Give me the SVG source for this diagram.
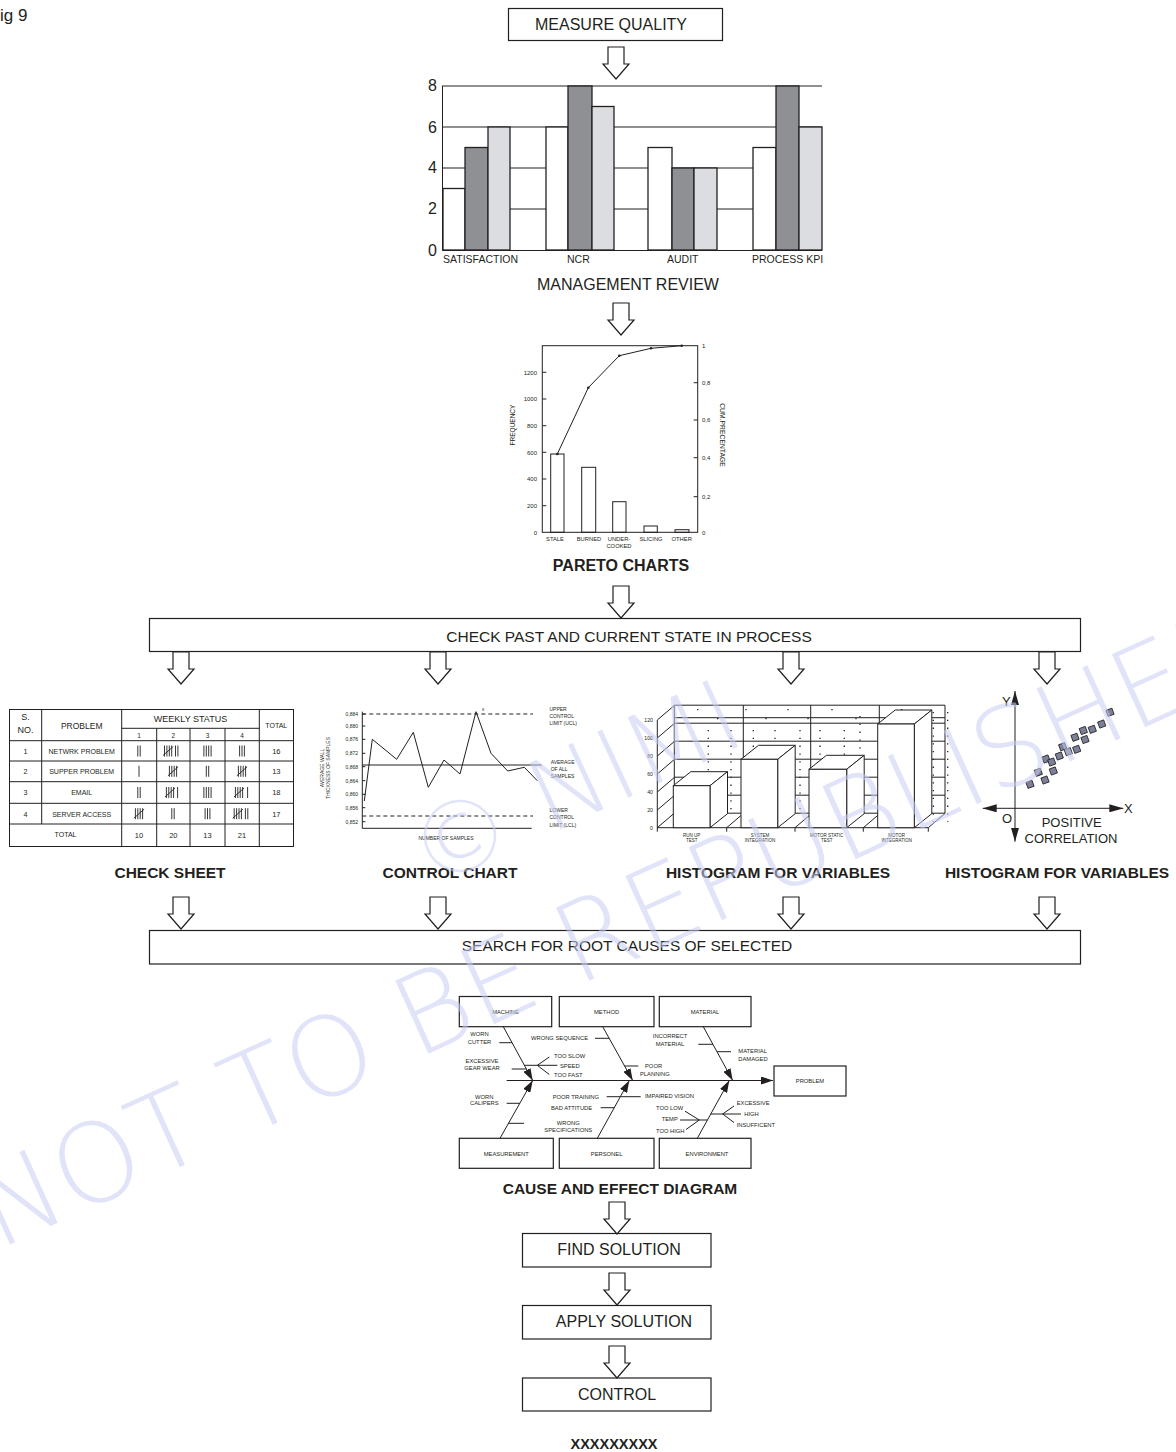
<svg xmlns="http://www.w3.org/2000/svg" width="1176" height="1452" viewBox="0 0 1176 1452">
<style>
text{font-family:"Liberation Sans",Arial,sans-serif;fill:#231f20}
.b{font-weight:bold}
.m{text-anchor:middle}
.e{text-anchor:end}
.box{fill:#fff;stroke:#231f20;stroke-width:1.2}
.ln{stroke:#231f20;stroke-width:1;fill:none}
.ha{fill:#fff;stroke:#231f20;stroke-width:1.2}
.w{fill:#fff;stroke:#231f20;stroke-width:1.3}
.d{fill:#8f9094;stroke:#231f20;stroke-width:1.3}
.l{fill:#dcdde0;stroke:#231f20;stroke-width:1.3}
.t{stroke:#231f20;stroke-width:0.9;fill:none}
.f5{font-size:5px}
.f6{font-size:5.8px}
.sq{fill:#7d8099;stroke:#231f20;stroke-width:0.8}
.wm{font-family:"DejaVu Sans","Liberation Sans",sans-serif;font-weight:200;fill:#c9cdf3;fill-opacity:0.55}
</style>
<defs>
<path id="ha" d="M-8,0H8V17H13L0,32L-13,17H-8Z"/>
<g id="t1"><path d="M0,-5.5V5.5"/></g>
<g id="t2"><path d="M0,-5.5V5.5M2.4,-5.5V5.5"/></g>
<g id="t3"><path d="M0,-5.5V5.5M2.4,-5.5V5.5M4.8,-5.5V5.5"/></g>
<g id="t4"><path d="M0,-5.5V5.5M2.4,-5.5V5.5M4.8,-5.5V5.5M7.2,-5.5V5.5"/></g>
<g id="t5"><path d="M0,-5.5V5.5M2.4,-5.5V5.5M4.8,-5.5V5.5M7.2,-5.5V5.5M-1.5,4.5L8.7,-4.5"/></g>
<marker id="ah" viewBox="0 0 12 8" refX="12" refY="4" markerUnits="userSpaceOnUse" markerWidth="12" markerHeight="8" orient="auto"><path d="M0,0L12,4L0,8Z" fill="#231f20"/></marker>
<marker id="ax" viewBox="0 0 14 8" refX="14" refY="4" markerUnits="userSpaceOnUse" markerWidth="14" markerHeight="8" orient="auto-start-reverse"><path d="M0,0L14,4L0,8Z" fill="#231f20"/></marker>
</defs>
<rect width="1176" height="1452" fill="#fff"/>

<g id="fig-label"><text x="0" y="21" font-size="17">ig 9</text></g>

<g id="measure-quality">
<rect class="box" x="508.5" y="8.5" width="214" height="32"/>
<text class="m" x="611" y="30" font-size="16">MEASURE QUALITY</text>
</g>

<g id="management-review">
<path class="ln" stroke-width="1.2" d="M442,86H822M442,127H822M442,168H822M442,209H822"/>
<rect class="w" x="443" y="188.5" width="22" height="61.5"/>
<rect class="d" x="465" y="147.5" width="23" height="102.5"/>
<rect class="l" x="488" y="127" width="22" height="123"/>
<rect class="w" x="546" y="127" width="22" height="123"/>
<rect class="d" x="568" y="86" width="24" height="164"/>
<rect class="l" x="592" y="106.5" width="22" height="143.5"/>
<rect class="w" x="648" y="147.5" width="24" height="102.5"/>
<rect class="d" x="672" y="168" width="22" height="82"/>
<rect class="l" x="694" y="168" width="23" height="82"/>
<rect class="w" x="753" y="147.5" width="23" height="102.5"/>
<rect class="d" x="776" y="86" width="23" height="164"/>
<rect class="l" x="799" y="127" width="23" height="123"/>
<path class="ln" stroke-width="1.4" d="M442.5,86V250.5H822"/>
<text class="e" x="437" y="91" font-size="16">8</text>
<text class="e" x="437" y="133" font-size="16">6</text>
<text class="e" x="437" y="173" font-size="16">4</text>
<text class="e" x="437" y="214" font-size="16">2</text>
<text class="e" x="437" y="256" font-size="16">0</text>
<text x="443" y="263" font-size="10.5">SATISFACTION</text>
<text x="567" y="263" font-size="10.5">NCR</text>
<text x="667" y="263" font-size="10.5">AUDIT</text>
<text x="752" y="263" font-size="10.5">PROCESS KPI</text>
<text class="m" x="628" y="290" font-size="16">MANAGEMENT REVIEW</text>
</g>

<g id="pareto-chart">
<rect class="ln" x="542.3" y="345.7" width="155.4" height="186.6"/>
<path class="ln" d="M542.3,505.7h4M542.3,479h4M542.3,452.3h4M542.3,425.7h4M542.3,399h4M542.3,372.3h4M697.7,496.7h-4M697.7,457.7h-4M697.7,420h-4M697.7,382.7h-4"/>
<rect class="ln" x="550.7" y="454" width="13.3" height="78.3"/>
<rect class="ln" x="581.7" y="467.3" width="14" height="65"/>
<rect class="ln" x="612.7" y="501.7" width="13.3" height="30.6"/>
<rect class="ln" x="644" y="526" width="13.3" height="6.3"/>
<rect class="ln" x="675" y="529.7" width="14" height="2.6"/>
<polyline class="ln" stroke-width="1.3" points="557.3,454 588.3,387.7 619.3,355.7 651,348.3 681.7,345.7"/>
<g fill="#231f20"><circle cx="557.3" cy="454" r="1.3"/><circle cx="588.3" cy="387.7" r="1.3"/><circle cx="619.3" cy="355.7" r="1.3"/><circle cx="651" cy="348.3" r="1.3"/><circle cx="681.7" cy="345.7" r="1.3"/></g>
<g font-size="6" class="e">
<text x="537" y="534.5">0</text><text x="537" y="508">200</text><text x="537" y="481.3">400</text><text x="537" y="454.6">600</text><text x="537" y="428">800</text><text x="537" y="401.3">1000</text><text x="537" y="374.6">1200</text>
</g>
<g font-size="6">
<text x="702" y="534.5">0</text><text x="702" y="499">0,2</text><text x="702" y="460">0,4</text><text x="702" y="422.3">0,6</text><text x="702" y="385">0,8</text><text x="702" y="348">1</text>
</g>
<text class="m" font-size="6.5" transform="translate(515,425) rotate(-90)">FREQUENCY</text>
<text class="m" font-size="6.8" transform="translate(720,435) rotate(90)">CUM.PRECENTAGE</text>
<g font-size="5.8" class="m">
<text x="555" y="541">STALE</text><text x="589" y="541">BURNED</text><text x="619" y="541">UNDER-</text><text x="619" y="547.5">COOKED</text><text x="651" y="541">SLICING</text><text x="681.7" y="541">OTHER</text>
</g>
<text class="b m" x="621" y="571" font-size="16">PARETO CHARTS</text>
</g>

<g id="check-past">
<rect class="box" x="149.5" y="618.5" width="931" height="33"/>
<text class="m" x="629" y="642" font-size="15.5">CHECK PAST AND CURRENT STATE IN PROCESS</text>
</g>

<g id="check-sheet">
<rect class="ln" x="9.5" y="709.5" width="284" height="137"/>
<path class="ln" d="M41.7,709.5V824M121.7,709.5V846.7M156.7,728.3V846.7M190,728.3V846.7M225,728.3V846.7M259.3,709.5V846.7M121.7,728.3H259.3M9.5,740.7H293.5M9.5,761H293.5M9.5,781.7H293.5M9.5,803.3H293.5M9.5,824H293.5"/>
<g class="m">
<text x="25.5" y="720" font-size="9">S.</text><text x="25.5" y="733" font-size="9">NO.</text>
<text x="81.7" y="728.5" font-size="8.5">PROBLEM</text>
<text x="190.5" y="722" font-size="9">WEEKLY STATUS</text>
<text x="276.3" y="728" font-size="7">TOTAL</text>
<g font-size="6.5"><text x="139" y="737.5">1</text><text x="173.3" y="737.5">2</text><text x="207.5" y="737.5">3</text><text x="242" y="737.5">4</text></g>
<g font-size="7.2">
<text x="25.5" y="753.5">1</text><text x="25.5" y="774">2</text><text x="25.5" y="795">3</text><text x="25.5" y="816.5">4</text>
</g>
<g font-size="7">
<text x="81.7" y="753.5">NETWRK PROBLEM</text><text x="81.7" y="774">SUPPER PROBLEM</text><text x="81.7" y="795">EMAIL</text><text x="81.7" y="816.5">SERVER ACCESS</text>
<text x="65.5" y="837">TOTAL</text>
</g>
<g font-size="7.5">
<text x="276.3" y="753.5">16</text><text x="276.3" y="774">13</text><text x="276.3" y="795">18</text><text x="276.3" y="816.5">17</text>
<text x="139" y="838">10</text><text x="173.3" y="838">20</text><text x="207.5" y="838">13</text><text x="242" y="838">21</text>
</g>
</g>
<g class="t">
<use href="#t2" x="137.8" y="751"/><use href="#t5" x="164.5" y="751"/><use href="#t2" x="175.5" y="751"/><use href="#t4" x="203.9" y="751"/><use href="#t3" x="239.6" y="751"/>
<use href="#t1" x="139" y="771.3"/><use href="#t5" x="169.4" y="771.3"/><use href="#t2" x="206.3" y="771.3"/><use href="#t5" x="238.4" y="771.3"/>
<use href="#t2" x="137.8" y="792.5"/><use href="#t5" x="166.4" y="792.5"/><use href="#t1" x="177.6" y="792.5"/><use href="#t4" x="203.9" y="792.5"/><use href="#t5" x="235.4" y="792.5"/><use href="#t1" x="247.6" y="792.5"/>
<use href="#t5" x="135.4" y="813.7"/><use href="#t2" x="171.8" y="813.7"/><use href="#t3" x="205.1" y="813.7"/><use href="#t5" x="234.2" y="813.7"/><use href="#t2" x="245.4" y="813.7"/>
</g>
<text class="b m" x="170" y="878" font-size="15.5">CHECK SHEET</text>
</g>

<g id="control-chart">
<path class="ln" d="M362.3,711.7V828.3H531.7"/>
<path class="ln" d="M362.3,714h3M362.3,726h3M362.3,739.3h3M362.3,753.3h3M362.3,766.7h3M362.3,780.7h3M362.3,794.3h3M362.3,807.7h3M362.3,821.7h3"/>
<path class="ln" stroke-dasharray="4 3" d="M362.3,714H533M362.3,816H533"/>
<path class="ln" stroke-width="1.8" d="M362.3,765H541.7"/>
<polyline class="ln" stroke-width="1.7" points="364.3,801 372.3,739.3 396.7,759.3 413.3,732.3 428.3,787.3 444,760 460,774 476,711.7 491,753.3 507.7,771 524.3,767.3 537.3,780.7"/>
<text x="482" y="711" font-size="4">8</text>
<g class="f5 e">
<text x="358" y="715.8">0,884</text><text x="358" y="727.8">0,880</text><text x="358" y="741.1">0,876</text><text x="358" y="755.1">0,872</text><text x="358" y="768.5">0,868</text><text x="358" y="782.5">0,864</text><text x="358" y="796.1">0,860</text><text x="358" y="809.5">0,856</text><text x="358" y="823.5">0,852</text>
</g>
<g class="f5">
<text x="549.5" y="711">UPPER</text><text x="549.5" y="718">CONTROL</text><text x="549.5" y="725">LIMIT (UCL)</text>
<text x="550.7" y="764">AVERAGE</text><text x="550.7" y="771">OF ALL</text><text x="550.7" y="777.5">SAMPLES</text>
<text x="549.5" y="812">LOWER</text><text x="549.5" y="819">CONTROL</text><text x="549.5" y="826.5">LIMIT (LCL)</text>
</g>
<text class="f5 m" transform="translate(324,768) rotate(-90)">AVERAGE WALL</text>
<text class="f5 m" transform="translate(330,768) rotate(-90)">THICKNESS OF SAMPLES</text>
<text class="f5 m" x="446" y="840">NUMBER OF SAMPLES</text>
<text class="b m" x="450" y="878" font-size="15.5">CONTROL CHART</text>
</g>

<g id="histogram-bars">
<path class="ln" d="M674.3,705.2H945V813.2M674.3,705.2V813.2H945M674.3,717.7H945M674.3,723.2H945M674.3,741.2H945M674.3,759.2H945M674.3,777.2H945M674.3,795.2H945M743.3,705.2V813.2M810.7,705.2V813.2M879.3,705.2V813.2"/>
<path class="ln" d="M657.3,720V827.7H928.3M657.3,720l17,-14.5M657.3,738l17,-14.5M657.3,756l17,-14.5M657.3,774l17,-14.5M657.3,792l17,-14.5M657.3,810l17,-14.5M657.3,827.7l17,-14.5M726.7,827.7l17,-14.5M795,827.7l17,-14.5M863.3,827.7l17,-14.5M928.3,827.7l17,-14.5M657.3,827.7v4M726.7,827.7v4M795,827.7v4M863.3,827.7v4M928.3,827.7v4"/>
<path stroke="#231f20" stroke-width="1.3" stroke-dasharray="1.3 6.5" fill="none" d="M708.3,730V812M731,730V812M753.3,730V812M775,730V812M800,730V812M820,730V812M844.3,730V812M860,716V812M933.3,712V822M947.7,712V822M697.7,709V716M717.7,718V722M746,709V716M766,718V722M788,709V716M808,718V722M832,709V716M856,718V722M901.7,709V716"/>
<g fill="#fff" stroke="#231f20" stroke-width="1">
<path d="M673.3,785.7H710L727.5,771.7H690.8Z"/><path d="M710,785.7L727.5,771.7V813.7L710,827.7Z"/><rect x="673.3" y="785.7" width="36.7" height="42"/>
<path d="M741,759.3H777.7L795.2,745.3H758.5Z"/><path d="M777.7,759.3L795.2,745.3V813.7L777.7,827.7Z"/><rect x="741" y="759.3" width="36.7" height="68.4"/>
<path d="M809,769.3H846.7L864.2,755.3H826.5Z"/><path d="M846.7,769.3L864.2,755.3V813.7L846.7,827.7Z"/><rect x="809" y="769.3" width="37.7" height="58.4"/>
<path d="M877.7,724H914.3L931.8,710H895.2Z"/><path d="M914.3,724L931.8,710V813.7L914.3,827.7Z"/><rect x="877.7" y="724" width="36.6" height="103.7"/>
</g>
<g font-size="5.2" class="e">
<text x="653" y="829.5">0</text><text x="653" y="811.8">20</text><text x="653" y="793.8">40</text><text x="653" y="775.8">60</text><text x="653" y="757.8">80</text><text x="653" y="739.8">100</text><text x="653" y="721.8">120</text>
</g>
<g font-size="4.5" class="m">
<text x="691.7" y="837">RUN UP</text><text x="691.7" y="842">TEST</text>
<text x="760" y="837">SYSTEM</text><text x="760" y="842">INTEGRATION</text>
<text x="826.7" y="837">MOTOR STATIC</text><text x="826.7" y="842">TEST</text>
<text x="896.7" y="837">MOTOR</text><text x="896.7" y="842">INTEGRATION</text>
</g>
<text class="b m" x="778" y="878" font-size="15.5">HISTOGRAM FOR VARIABLES</text>
</g>

<g id="scatter">
<path class="ln" stroke-width="1.4" d="M1015,841.7V691" marker-start="url(#ax)" marker-end="url(#ax)"/>
<path class="ln" stroke-width="1.4" d="M982.7,808.3H1123.3" marker-start="url(#ax)" marker-end="url(#ax)"/>
<g class="sq">
<rect x="-3.2" y="-3.2" width="6.4" height="6.4" transform="translate(1030,784.3) rotate(-20)"/>
<rect x="-3.2" y="-3.2" width="6.4" height="6.4" transform="translate(1038.3,772.3) rotate(-20)"/>
<rect x="-3.2" y="-3.2" width="6.4" height="6.4" transform="translate(1045,780) rotate(-20)"/>
<rect x="-3.2" y="-3.2" width="6.4" height="6.4" transform="translate(1053.3,771) rotate(-20)"/>
<rect x="-3.2" y="-3.2" width="6.4" height="6.4" transform="translate(1046,759) rotate(-20)"/>
<rect x="-3.2" y="-3.2" width="6.4" height="6.4" transform="translate(1051.7,762) rotate(-20)"/>
<rect x="-3.2" y="-3.2" width="6.4" height="6.4" transform="translate(1059.3,756) rotate(-20)"/>
<rect x="-3.2" y="-3.2" width="6.4" height="6.4" transform="translate(1062.7,746.7) rotate(-20)"/>
<rect x="-3.2" y="-3.2" width="6.4" height="6.4" transform="translate(1068.3,751.7) rotate(-20)"/>
<rect x="-3.2" y="-3.2" width="6.4" height="6.4" transform="translate(1076.7,749.3) rotate(-20)"/>
<rect x="-3.2" y="-3.2" width="6.4" height="6.4" transform="translate(1075,737.3) rotate(-20)"/>
<rect x="-3.2" y="-3.2" width="6.4" height="6.4" transform="translate(1083.3,730.5) rotate(-20)"/>
<rect x="-3.2" y="-3.2" width="6.4" height="6.4" transform="translate(1085,739.5) rotate(-20)"/>
<rect x="-3.2" y="-3.2" width="6.4" height="6.4" transform="translate(1092.3,729.3) rotate(-20)"/>
<rect x="-3.2" y="-3.2" width="6.4" height="6.4" transform="translate(1101.7,724) rotate(-20)"/>
<rect x="-3.2" y="-3.2" width="6.4" height="6.4" transform="translate(1110,712.3) rotate(-20)"/>
</g>
<text x="1002" y="706" font-size="13">Y</text>
<text x="1124" y="813" font-size="13">X</text>
<text x="1002" y="823" font-size="13">O</text>
<text class="m" x="1071.7" y="827" font-size="13">POSITIVE</text>
<text class="m" x="1071" y="843" font-size="13">CORRELATION</text>
<text class="b m" x="1057" y="878" font-size="15.5">HISTOGRAM FOR VARIABLES</text>
</g>

<g id="search-root-causes">
<rect class="box" x="149.5" y="930.5" width="931" height="33.5"/>
<text class="m" x="627" y="951" font-size="15.5">SEARCH FOR ROOT CAUSES OF SELECTED</text>
</g>

<g id="cause-effect">
<g class="box" stroke-width="1">
<rect x="459.3" y="996.5" width="92.4" height="30.2"/>
<rect x="559.3" y="996.5" width="94.7" height="30.2"/>
<rect x="659.3" y="996.5" width="91.7" height="30.2"/>
<rect x="459.3" y="1138.3" width="94" height="30"/>
<rect x="559.3" y="1138.3" width="94.7" height="30"/>
<rect x="659.3" y="1138.3" width="91.7" height="30"/>
<rect x="774" y="1066" width="72" height="30"/>
</g>
<g class="f6 m">
<text x="505.5" y="1014">MACHINE</text><text x="606.6" y="1014">METHOD</text><text x="705" y="1014">MATERIAL</text>
<text x="506.3" y="1156">MEASUREMENT</text><text x="606.6" y="1156">PERSONEL</text><text x="707" y="1156">ENVIRONMENT</text>
<text x="810" y="1083">PROBLEM</text>
</g>
<path class="ln" stroke-width="1.8" d="M506.7,1080.5H773" marker-end="url(#ah)"/>
<g class="ln" stroke-width="1.5">
<path d="M503.3,1026.7L532.7,1080.5" marker-end="url(#ah)"/>
<path d="M602.7,1026.7L632.7,1080.5" marker-end="url(#ah)"/>
<path d="M703.3,1026.7L732.7,1080.5" marker-end="url(#ah)"/>
<path d="M500,1138.3L532.7,1080.5" marker-end="url(#ah)"/>
<path d="M597.3,1138.3L629.3,1080.5" marker-end="url(#ah)"/>
<path d="M697.3,1138.3L729.3,1080.5" marker-end="url(#ah)"/>
</g>
<path class="ln" d="M499.3,1042.7H512M511.7,1069H526.3M524.6,1065.3H557.3M537.3,1065.3L549.3,1057M537.3,1065.3L549.3,1074.5M595,1038.3H609.1M624.5,1066H638.3M698.3,1044.3H713M717,1051.7H731M606.7,1096.7H620.4M600.7,1107.7H614.3M508.5,1123.3H524M506.7,1103.3H519.9M621,1096.7H640.7M685,1111.2L699.3,1120M680,1120H707.5M686,1129.5L699.3,1120M710.8,1114H741M722.7,1114L734,1106M722.7,1114L734,1122.5"/>
<g class="f6">
<text class="m" x="479.5" y="1036">WORN</text><text class="m" x="479.5" y="1043.5">CUTTER</text>
<text class="m" x="482" y="1062.7">EXCESSIVE</text><text class="m" x="482" y="1070">GEAR WEAR</text>
<text x="554" y="1057.5">TOO SLOW</text><text x="560" y="1067.5">SPEED</text><text x="554" y="1077">TOO FAST</text>
<text x="531" y="1039.5">WRONG SEQUENCE</text>
<text x="645" y="1068">POOR</text><text x="640" y="1075.5">PLANNING</text>
<text class="m" x="670" y="1038">INCORRECT</text><text class="m" x="670" y="1045.5">MATERIAL</text>
<text x="738.3" y="1053">MATERIAL</text><text x="738.3" y="1060.5">DAMAGED</text>
<text x="552.7" y="1098.5">POOR TRAINING</text><text x="551" y="1109.5">BAD ATTITUDE</text>
<text class="m" x="568.3" y="1124.5">WRONG</text><text class="m" x="568.3" y="1132">SPECIFICATIONS</text>
<text class="m" x="484.3" y="1098.5">WORN</text><text class="m" x="484.3" y="1105">CALIPERS</text>
<text x="645" y="1097.5">IMPAIRED VISION</text>
<text x="656" y="1110">TOO LOW</text><text x="661.7" y="1120.5">TEMP</text><text x="656" y="1132.5">TOO HIGH</text>
<text x="736.7" y="1104.5">EXCESSIVE</text><text x="744.3" y="1115.5">HIGH</text><text x="736.7" y="1126.5">INSUFFICENT</text>
</g>
<text class="b m" x="620" y="1194" font-size="15.5">CAUSE AND EFFECT DIAGRAM</text>
</g>

<g id="find-solution">
<rect class="box" x="522.5" y="1233.5" width="188.5" height="33.5"/>
<text class="m" x="619" y="1255" font-size="16">FIND SOLUTION</text>
</g>
<g id="apply-solution">
<rect class="box" x="522.5" y="1305.5" width="188.5" height="33.5"/>
<text class="m" x="624" y="1327" font-size="16">APPLY SOLUTION</text>
</g>
<g id="control">
<rect class="box" x="522.5" y="1378" width="188.5" height="33"/>
<text class="m" x="617" y="1400" font-size="16">CONTROL</text>
</g>
<g id="footer"><text class="b m" x="614" y="1449" font-size="14.5">XXXXXXXXX</text></g>

<g id="connectors" class="ha">
<use href="#ha" transform="translate(616,47)"/>
<use href="#ha" transform="translate(621,303)"/>
<use href="#ha" transform="translate(621,586)"/>
<use href="#ha" transform="translate(181,652)"/>
<use href="#ha" transform="translate(438,652)"/>
<use href="#ha" transform="translate(791,652)"/>
<use href="#ha" transform="translate(1047,652)"/>
<use href="#ha" transform="translate(181,897)"/>
<use href="#ha" transform="translate(438,897)"/>
<use href="#ha" transform="translate(791,897)"/>
<use href="#ha" transform="translate(1047,897)"/>
<use href="#ha" transform="translate(617,1202)"/>
<use href="#ha" transform="translate(617,1273)"/>
<use href="#ha" transform="translate(617,1346)"/>
</g>

<g id="watermark">
<text class="wm" font-size="100" transform="translate(430,890) rotate(-25)">© NIMI</text>
<text class="wm" font-size="110" transform="translate(-2,1250) rotate(-24.5)">NOT TO BE REPUBLISHED</text>
</g>
</svg>
